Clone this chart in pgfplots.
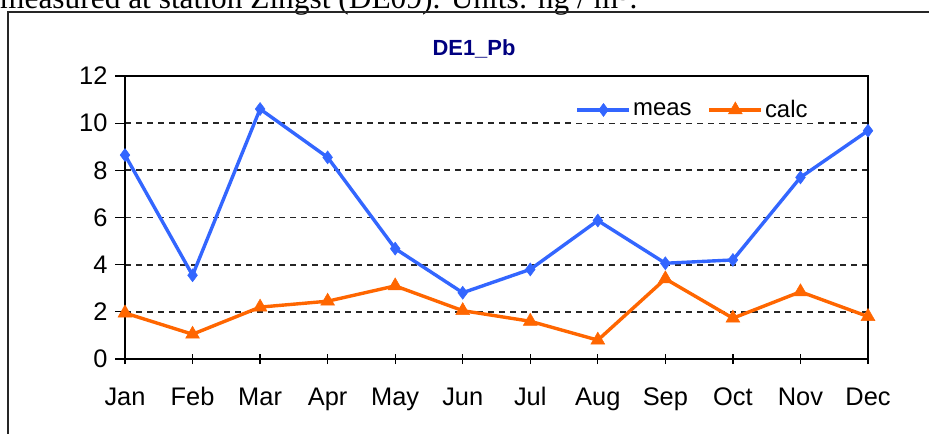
\documentclass[border=0pt]{standalone}
\usepackage{pgfplots}
\pgfplotsset{compat=1.18}
\usepackage{fontspec}
\setmainfont{Liberation Sans}
\newfontfamily\timesf{Liberation Serif}
\definecolor{measc}{HTML}{3366FF}
\definecolor{calcc}{HTML}{FF6600}
\definecolor{navyc}{HTML}{000080}
\begin{document}
\begin{tikzpicture}
\useasboundingbox (0bp,0bp) rectangle (929bp,434bp);
\clip (0bp,0bp) rectangle (929bp,434bp);
\fill[white] (0bp,0bp) rectangle (929bp,434bp);
\node[anchor=base west, inner sep=0pt, font=\timesf\fontsize{31.5}{36}\selectfont] at (0bp,425bp) {measured at station Zingst (DE09). Units: ng / m\textsuperscript{3}.};
\draw[line width=2bp, black!85] (8bp,422bp) rectangle (945bp,-20bp);
\node[font=\bfseries\fontsize{22}{26}\selectfont, text=navyc, anchor=base] at (474bp,378bp) {DE1\_Pb};
\begin{axis}[
  at={(125bp,75bp)}, anchor=south west,
  scale only axis, width=743bp, height=283bp,
  xmin=0, xmax=11, ymin=0, ymax=12,
  xtick={0,...,11},
  xticklabels={Jan,Feb,Mar,Apr,May,Jun,Jul,Aug,Sep,Oct,Nov,Dec},
  ytick={0,2,...,12},
  xtick pos=bottom, ytick pos=left,
  xtick align=center, ytick align=outside,
  major tick length=10bp,
  tick style={black, line width=1.3bp},
  axis line style={black, line width=1.6bp},
  ymajorgrids,
  major grid style={black!85, line width=1.8bp, dash pattern=on 6bp off 5bp},
  /pgf/number format/assume math mode=true,
  tick label style={font=\fontsize{25.5}{29}\selectfont},
  yticklabel style={xshift=-4bp},
  xticklabel style={anchor=base, yshift=-41bp},
  legend style={draw=none, fill=white, at={(0.764,0.88)}, anchor=center,
    font=\fontsize{24}{28}\selectfont, inner xsep=4bp, inner ysep=2bp,
    /tikz/every even column/.append style={column sep=14bp}},
  legend columns=2,
  legend image code/.code={\draw[mark repeat=2,mark phase=2,#1] plot coordinates {(0bp,0bp) (26bp,0bp) (52bp,0bp)};},
]
\addplot[measc, line width=3.4bp, mark=diamond*, mark size=6.5bp, mark options={solid, fill=measc, draw=measc, line width=0.5bp}]
coordinates {(0,8.65) (1,3.55) (2,10.6) (3,8.55) (4,4.68) (5,2.81) (6,3.8) (7,5.87) (8,4.06) (9,4.2) (10,7.7) (11,9.68)};
\addlegendentry{meas}
\addplot[calcc, line width=3.4bp, mark=triangle*, mark size=8bp, mark options={solid, fill=calcc, draw=calcc, line width=0.5bp}]
coordinates {(0,1.95) (1,1.05) (2,2.2) (3,2.45) (4,3.1) (5,2.05) (6,1.6) (7,0.8) (8,3.4) (9,1.73) (10,2.85) (11,1.8)};
\addlegendentry{calc}
\end{axis}
\end{tikzpicture}
\end{document}
